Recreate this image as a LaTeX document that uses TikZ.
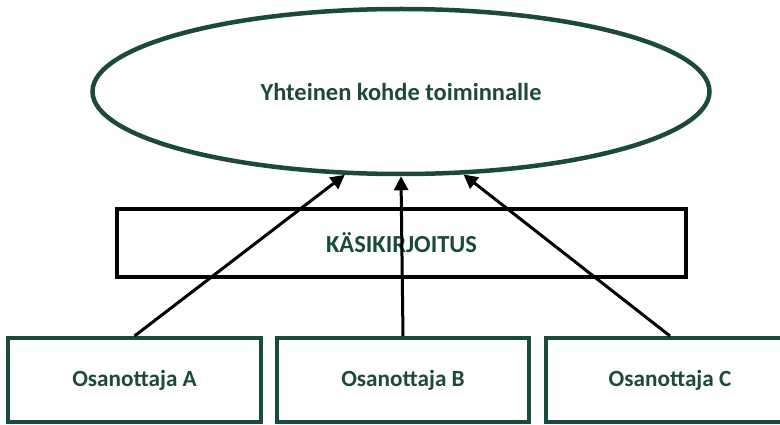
\documentclass[tikz,border=0pt]{standalone}
\usepackage{fontspec}
\setmainfont{Carlito}
\usetikzlibrary{shapes.geometric,arrows.meta}
\definecolor{deepgreen}{RGB}{26,74,56}
\tikzset{
  labeltext/.style={text=deepgreen,font=\bfseries\fontsize{24.5}{28}\selectfont},
  goal/.style={ellipse,draw=deepgreen,line width=4.5pt,inner sep=0pt,
    minimum width=617pt,minimum height=165pt,labeltext},
  tool/.style={rectangle,draw=black,line width=4pt,inner sep=0pt,
    minimum width=569pt,minimum height=68pt,labeltext,
    font=\bfseries\fontsize{24.5}{28}\selectfont},
  actor/.style={rectangle,draw=deepgreen,line width=4pt,inner sep=0pt,
    minimum height=84pt,labeltext,font=\bfseries\fontsize{23.2}{27}\selectfont},
  link/.style={draw=black,line width=3pt,-{Triangle[length=14pt,width=14pt]}}
}
\begin{document}
\begin{tikzpicture}[x=1pt,y=-1pt]
  \clip (0,0) rectangle (780,425);
  % shared goal of the activity
  \node[goal] (E) at (401,91.5) {Yhteinen kohde toiminnalle};
  % mediating artefact
  \node[tool] (K) at (401.5,243) {KÄSIKIRJOITUS};
  % participants
  \node[actor,minimum width=253pt] (A) at (134.5,380) {Osanottaja A};
  \node[actor,minimum width=252pt] (B) at (403,380) {Osanottaja B};
  \node[actor,minimum width=248pt] (C) at (670,380) {Osanottaja C};
  % contributions towards the goal
  \draw[link] (A.north) -- (E.-124.6);
  \draw[link] (B.north) -- (E.-90.7);
  \draw[link] (C.north) -- (E.-53);
\end{tikzpicture}
\end{document}
